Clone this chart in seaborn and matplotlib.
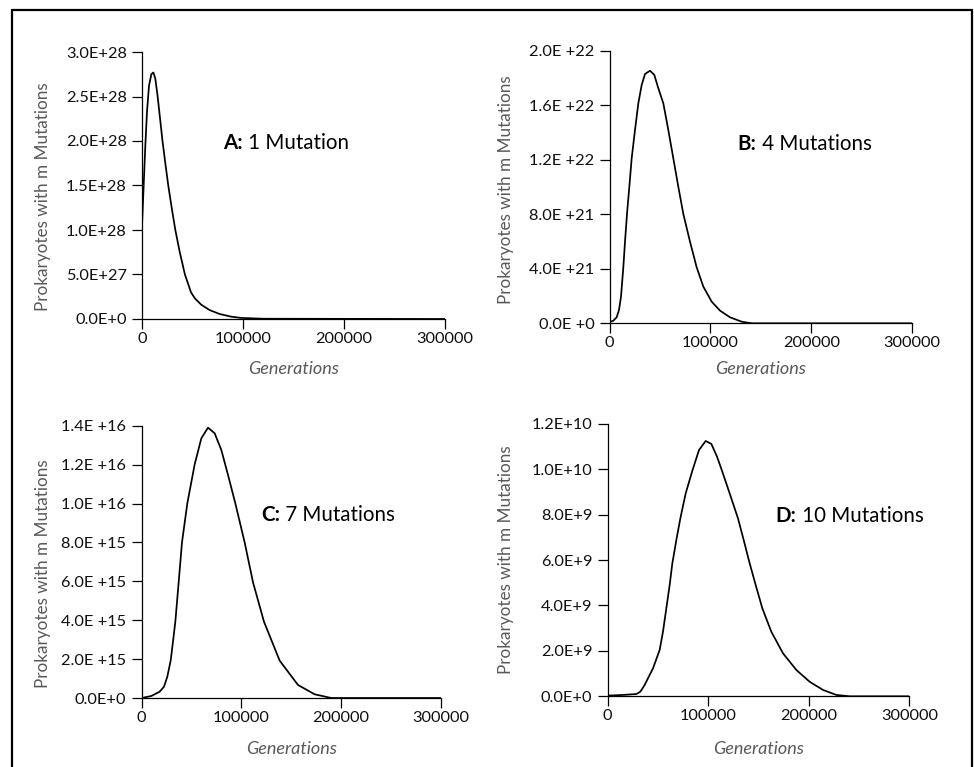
import numpy as np
import pandas as pd
import matplotlib
matplotlib.use("Agg")
import matplotlib.pyplot as plt
from matplotlib.ticker import FixedLocator, FixedFormatter
from matplotlib.lines import Line2D
import seaborn as sns

sns.set_theme(style="white")
plt.rcParams['font.family'] = ['Lato', 'DejaVu Sans']

# ---------------- data ----------------
gen_ticks = [0, 100000, 200000, 300000]
gen_tick_labels = ["0", "100000", "200000", "300000"]

# Panel A: 1 mutation
a_gen = [0, 1650, 3300, 4950, 6930, 9240, 11220, 13200, 15500, 17900, 20300,
         23100, 26000, 29400, 33000, 37400, 42500, 45500, 48500, 52500,
         58700, 67000, 76900, 88450, 98350, 120000, 300000]
a_val = [1.04e28, 1.50e28, 1.95e28, 2.33e28, 2.62e28, 2.75e28, 2.77e28, 2.70e28,
         2.50e28, 2.25e28, 2.00e28, 1.75e28, 1.50e28, 1.25e28, 1.00e28, 0.75e28,
         0.50e28, 0.40e28, 0.30e28, 0.23e28, 0.16e28, 0.10e28, 0.056e28,
         0.026e28, 0.012e28, 0.003e28, 0.0]
a_yticks = [0, 5e27, 1e28, 1.5e28, 2e28, 2.5e28, 3e28]
a_ylabels = ["0.0E+0", "5.0E+27", "1.0E+28", "1.5E+28", "2.0E+28", "2.5E+28", "3.0E+28"]

# Panel B: 4 mutations
b_gen = [0, 3600, 6910, 9230, 11210, 13530, 15190, 17170, 19480, 21800, 25110,
         28410, 31720, 35030, 40000, 44290, 48260, 53220, 58180, 63140, 68100,
         73070, 79690, 86300, 92920, 101190, 109460, 119380, 130960, 140880, 300000]
b_val = [0.010e22, 0.019e22, 0.044e22, 0.098e22, 0.195e22, 0.411e22, 0.599e22,
         0.802e22, 1.002e22, 1.210e22, 1.418e22, 1.614e22, 1.748e22, 1.829e22,
         1.853e22, 1.822e22, 1.724e22, 1.614e22, 1.418e22, 1.210e22, 1.002e22,
         0.802e22, 0.599e22, 0.411e22, 0.269e22, 0.159e22, 0.093e22, 0.044e22,
         0.012e22, 0.0, 0.0]
b_yticks = [0, 4e21, 8e21, 1.2e22, 1.6e22, 2e22]
b_ylabels = ["0.0E +0", "4.0E +21", "8.0E +21", "1.2E +22", "1.6E +22", "2.0E +22"]

# Panel C: 7 mutations
c_gen = [0, 9660, 18030, 22370, 25720, 29060, 31400, 33740, 37090, 40430, 45780,
         53140, 59830, 66520, 73210, 79900, 86590, 93940, 103300, 111670, 122710,
         138430, 156820, 173540, 190260, 300000]
c_val = [0.0, 0.0103e16, 0.0325e16, 0.058e16, 0.110e16, 0.192e16, 0.290e16,
         0.392e16, 0.595e16, 0.800e16, 1.001e16, 1.201e16, 1.335e16, 1.390e16,
         1.361e16, 1.275e16, 1.147e16, 1.001e16, 0.800e16, 0.595e16, 0.392e16,
         0.192e16, 0.067e16, 0.019e16, 0.0, 0.0]
c_yticks = [0, 2e15, 4e15, 6e15, 8e15, 1e16, 1.2e16, 1.4e16]
c_ylabels = ["0.0E+0", "2.0E +15", "4.0E +15", "6.0E +15", "8.0E +15", "1.0E +16",
             "1.2E +16", "1.4E +16"]

# Panel D: 10 mutations
d_gen = [0, 15220, 28480, 32460, 36770, 41750, 45060, 51690, 55010, 58320, 61640,
         64290, 68270, 72250, 77560, 84190, 90820, 97450, 103090, 108730, 113700,
         121330, 129620, 135260, 141230, 147200, 153830, 162780, 174380, 187640,
         200900, 214160, 227420, 240680, 300000]
d_val = [0.003e10, 0.006e10, 0.010e10, 0.020e10, 0.050e10, 0.094e10, 0.123e10,
         0.204e10, 0.285e10, 0.387e10, 0.490e10, 0.585e10, 0.688e10, 0.783e10,
         0.893e10, 0.993e10, 1.084e10, 1.124e10, 1.111e10, 1.055e10, 0.993e10,
         0.893e10, 0.783e10, 0.688e10, 0.585e10, 0.490e10, 0.387e10, 0.284e10,
         0.189e10, 0.116e10, 0.064e10, 0.028e10, 0.006e10, 0.0, 0.0]
d_yticks = [0, 2e9, 4e9, 6e9, 8e9, 1e10, 1.2e10]
d_ylabels = ["0.0E+0", "2.0E+9", "4.0E+9", "6.0E+9", "8.0E+9", "1.0E+10", "1.2E+10"]

panel_letters = ["A:", "B:", "C:", "D:"]
panel_texts = [" 1 Mutation", " 4 Mutations", " 7 Mutations", " 10 Mutations"]
label_pos = [(80200, 1.98e28), (127000, 1.315e22), (119700, 0.942e16), (167100, 0.795e10)]

y_label = "Prokaryotes with m Mutations"
x_label = "Generations"

# ---------------- figure ----------------
W, H = 974, 767
fig = plt.figure(figsize=(W / 100, H / 100), dpi=100)

def px_axes(x0, x1, ytop, ybot):
    return fig.add_axes([x0 / W, 1 - ybot / H, (x1 - x0) / W, (ybot - ytop) / H])

boxes = [(142, 445, 52, 319), (609.7, 912, 50.7, 323.3),
         (141.7, 440.7, 425.7, 698), (607.7, 909.3, 423.7, 696.3)]
gens = [a_gen, b_gen, c_gen, d_gen]
vals = [a_val, b_val, c_val, d_val]
yts = [a_yticks, b_yticks, c_yticks, d_yticks]
yls = [a_ylabels, b_ylabels, c_ylabels, d_ylabels]
ylab_xc = [43.5, 505.8, 43.5, 505.8]
ylab_yc = [197, 190, 574, 559.5]
xlab_yc = [369, 369, 749.5, 749.5]

for i in range(4):
    x0, x1, yt, yb = boxes[i]
    ax = px_axes(x0, x1, yt, yb)
    df = pd.DataFrame({"gen": gens[i], "val": vals[i]})
    sns.lineplot(data=df, x="gen", y="val", ax=ax, color="black", lw=1.25,
                 estimator=None, sort=False)
    ax.set_xlim(0, 300000)
    ax.set_ylim(yts[i][0], yts[i][-1])
    for s in ["top", "right"]:
        ax.spines[s].set_visible(False)
    for s in ["left", "bottom"]:
        ax.spines[s].set_color("black")
        ax.spines[s].set_linewidth(0.9)
    ax.xaxis.set_major_locator(FixedLocator(gen_ticks))
    ax.xaxis.set_major_formatter(FixedFormatter(gen_tick_labels))
    ax.yaxis.set_major_locator(FixedLocator(yts[i]))
    ax.yaxis.set_major_formatter(FixedFormatter(yls[i]))
    ax.tick_params(axis="both", direction="out", length=7, width=0.9, color="black",
                   labelsize=11.8, labelcolor="#111111", bottom=True, left=True)
    ax.tick_params(axis="x", pad=2.5)
    ax.tick_params(axis="y", pad=4)
    ax.set_facecolor("none")
    ax.set_xlabel(x_label, fontsize=13, style="italic", color="#595959")
    ax.xaxis.label.set_va("center")
    ax.xaxis.set_label_coords(0.5, (yb - xlab_yc[i]) / (yb - yt))
    ax.set_ylabel(y_label, fontsize=12.3, color="#595959")
    ax.yaxis.label.set_va("center")
    ax.yaxis.set_label_coords((ylab_xc[i] - x0) / (x1 - x0), (yb - ylab_yc[i]) / (yb - yt))
    lx, ly = label_pos[i]
    t = ax.annotate(panel_letters[i], xy=(lx, ly), xycoords="data", fontsize=14.8,
                    fontweight="bold", ha="left", va="center", color="black")
    ax.annotate(panel_texts[i], xy=(1, 0.5), xycoords=t, fontsize=14.8,
                ha="left", va="center", color="black")

# outer frame (bottom edge lies outside the picture)
lw = 1.6
fig.add_artist(Line2D([12 / W, 12 / W], [0, 1 - 9.5 / H], transform=fig.transFigure,
                      color="black", lw=lw))
fig.add_artist(Line2D([12 / W, 972 / W], [1 - 9.5 / H, 1 - 9.5 / H],
                      transform=fig.transFigure, color="black", lw=lw))
fig.add_artist(Line2D([972 / W, 972 / W], [0, 1 - 9.5 / H], transform=fig.transFigure,
                      color="black", lw=lw))

fig.savefig("out.png", dpi=100, facecolor="white")
